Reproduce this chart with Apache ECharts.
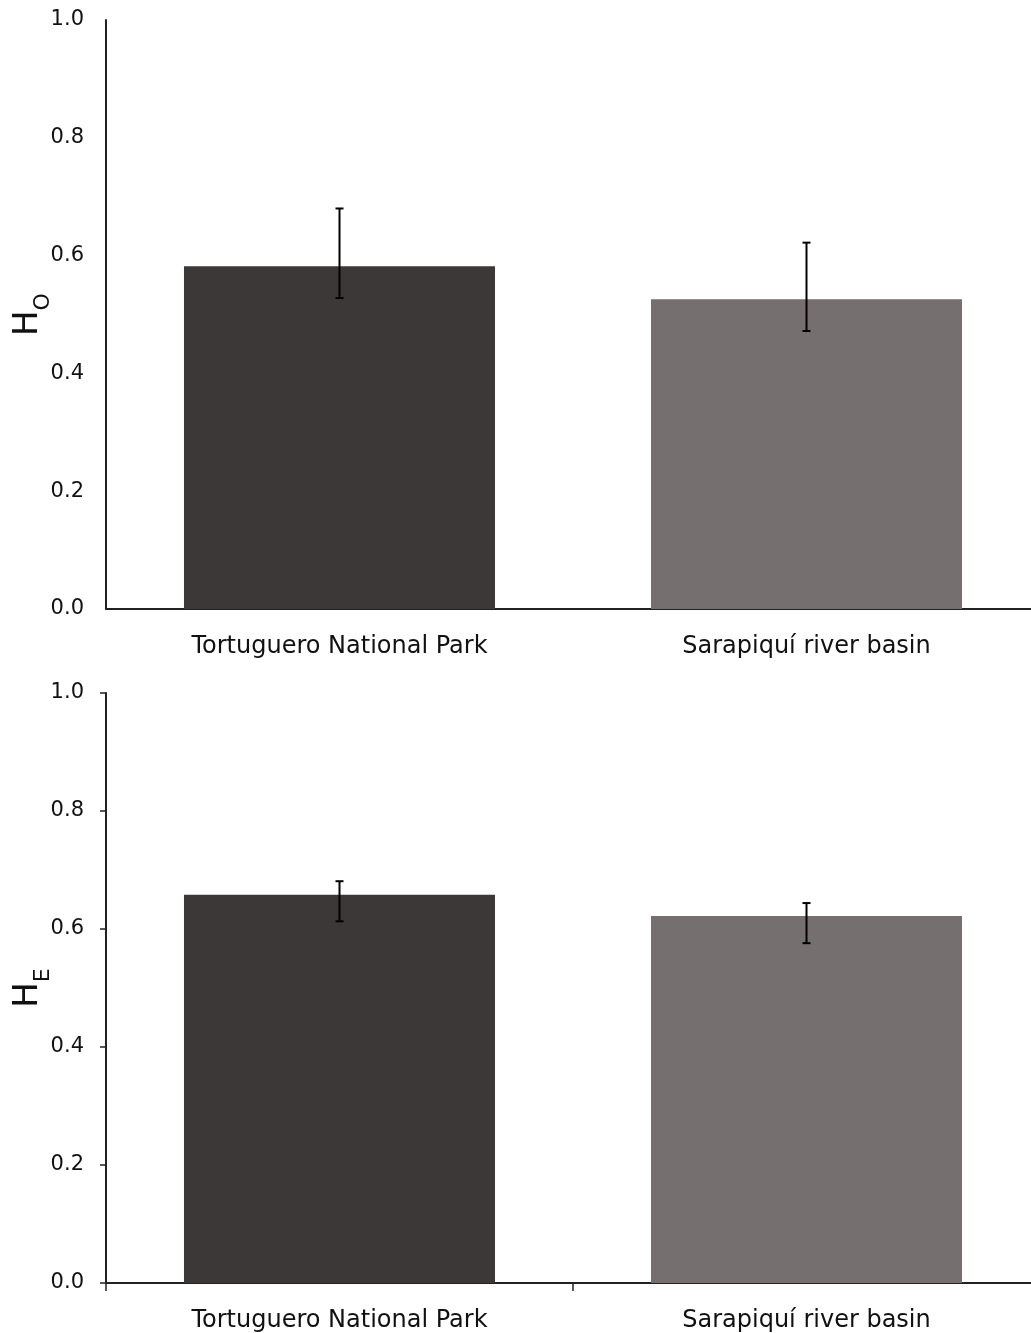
<!DOCTYPE html>
<html>
<head>
<meta charset="utf-8">
<script src="https://cdn.jsdelivr.net/npm/echarts@6/dist/echarts.min.js"></script>
<style>
  html, body { margin: 0; padding: 0; background: #fff; }
  #chart { width: 1031px; height: 1333px; }
</style>
</head>
<body>
<div id="chart"></div>
<script>
// Sites compared
const sites = ['Tortuguero National Park', 'Sarapiquí river basin'];
const yTicks = [0, 0.2, 0.4, 0.6, 0.8, 1.0];

// Observed heterozygosity (H_O): means and error-bar limits
const hoMean = [0.582, 0.526];
const hoLow = [0.528, 0.472];
const hoHigh = [0.680, 0.622];

// Expected heterozygosity (H_E): means and error-bar limits
const heMean = [0.658, 0.622];
const heLow = [0.613, 0.576];
const heHigh = [0.681, 0.644];

const barColors = ['#3c3837', '#756f6f'];
const font = 'DejaVu Sans';

const chart = echarts.init(document.getElementById('chart'), null, { renderer: 'canvas' });

function errorData(low, high) {
  return low.map((l, i) => [i, l, high[i]]);
}

function renderErrorBar(params, api) {
  const x = api.value(0);
  const lo = api.coord([x, api.value(1)]);
  const hi = api.coord([x, api.value(2)]);
  const cap = 4;
  const style = { stroke: '#000', lineWidth: 2 };
  return {
    type: 'group',
    children: [
      { type: 'line', shape: { x1: lo[0], y1: lo[1], x2: hi[0], y2: hi[1] }, style },
      { type: 'line', shape: { x1: hi[0] - cap, y1: hi[1], x2: hi[0] + cap, y2: hi[1] }, style },
      { type: 'line', shape: { x1: lo[0] - cap, y1: lo[1], x2: lo[0] + cap, y2: lo[1] }, style }
    ]
  };
}

function yAxisFor(gridIndex, sub, showTicks) {
  return {
    type: 'value',
    gridIndex,
    min: yTicks[0],
    max: yTicks[yTicks.length - 1],
    interval: 0.2,
    splitLine: { show: false },
    axisLine: { show: true, lineStyle: { color: '#222', width: 2 } },
    axisTick: { show: showTicks, length: 6, lineStyle: { color: '#222', width: 1.5 } },
    axisLabel: {
      color: '#111', fontFamily: font, fontSize: 21, margin: 22,
      formatter: v => v.toFixed(1)
    },
    name: '{h|H}{s|' + sub + '}',
    nameLocation: 'middle',
    nameRotate: 90,
    nameGap: 61,
    nameMoveOverlap: false,
    nameTextStyle: {
      rich: {
        h: { fontFamily: font, fontSize: 34, color: '#111', lineHeight: 40, verticalAlign: 'bottom' },
        s: { fontFamily: font, fontSize: 22, color: '#111', lineHeight: 40, verticalAlign: 'bottom', padding: [0, 0, -9, 0] }
      }
    }
  };
}

function xAxisFor(gridIndex, showTicks) {
  return {
    type: 'category',
    gridIndex,
    data: sites,
    axisLine: { show: true, lineStyle: { color: '#222', width: 2 } },
    axisTick: { show: showTicks, length: 8, lineStyle: { color: '#222', width: 1.5 } },
    axisLabel: { color: '#111', fontFamily: font, fontSize: 24, margin: 26 }
  };
}

chart.setOption({
  animation: false,
  backgroundColor: '#fff',
  grid: [
    { left: 106, top: 20, width: 934, height: 589, outerBoundsMode: 'none' },
    { left: 106, top: 693, width: 934, height: 590, outerBoundsMode: 'none' }
  ],
  xAxis: [xAxisFor(0, false), xAxisFor(1, true)],
  yAxis: [yAxisFor(0, 'O', false), yAxisFor(1, 'E', true)],
  series: [
    {
      type: 'bar', xAxisIndex: 0, yAxisIndex: 0, barWidth: '66.6%',
      data: hoMean.map((v, i) => ({ value: v, itemStyle: { color: barColors[i] } }))
    },
    {
      type: 'custom', xAxisIndex: 0, yAxisIndex: 0, z: 10,
      renderItem: renderErrorBar, data: errorData(hoLow, hoHigh)
    },
    {
      type: 'bar', xAxisIndex: 1, yAxisIndex: 1, barWidth: '66.6%',
      data: heMean.map((v, i) => ({ value: v, itemStyle: { color: barColors[i] } }))
    },
    {
      type: 'custom', xAxisIndex: 1, yAxisIndex: 1, z: 10,
      renderItem: renderErrorBar, data: errorData(heLow, heHigh)
    }
  ]
});
</script>
</body>
</html>
